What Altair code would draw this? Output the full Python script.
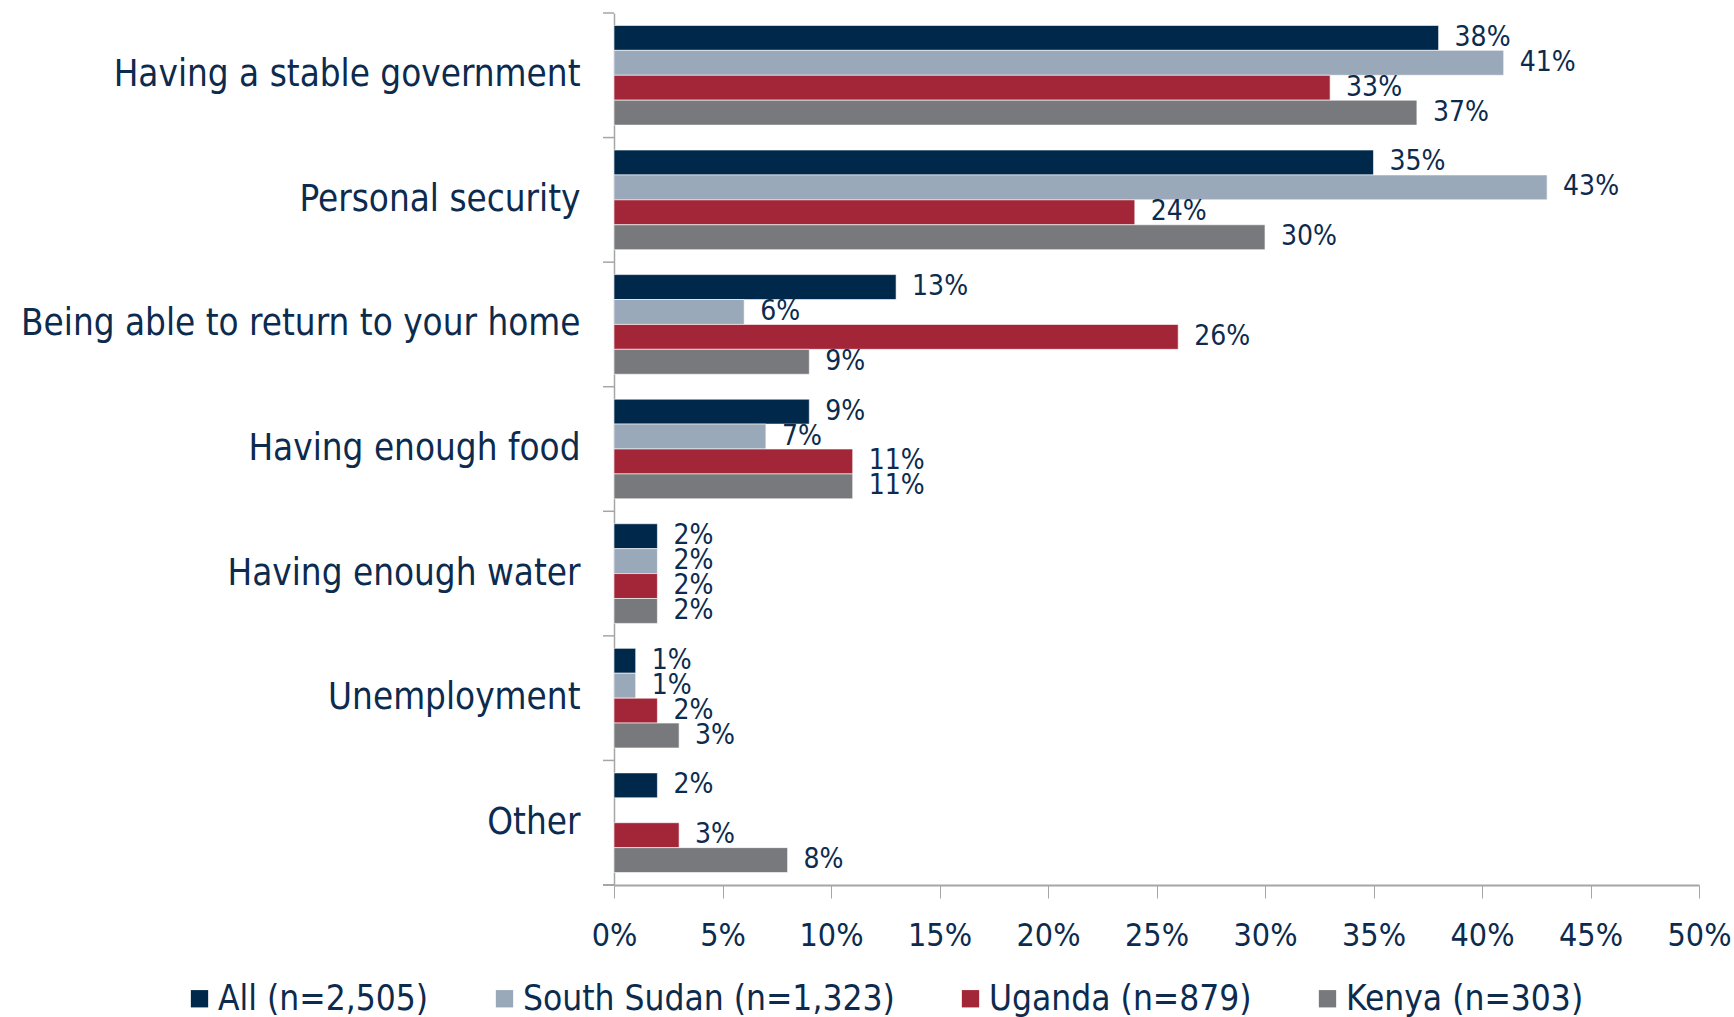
import altair as alt
import pandas as pd

categories = [
    "Having a stable government",
    "Personal security",
    "Being able to return to your home",
    "Having enough food",
    "Having enough water",
    "Unemployment",
    "Other",
]
series = ["All (n=2,505)", "South Sudan (n=1,323)", "Uganda (n=879)", "Kenya (n=303)"]
colors = ["#00284B", "#99A9B9", "#A32638", "#78797D"]

all_vals = [38, 35, 13, 9, 2, 1, 2]
south_sudan_vals = [41, 43, 6, 7, 2, 1, None]
uganda_vals = [33, 24, 26, 11, 2, 2, 3]
kenya_vals = [37, 30, 9, 11, 2, 3, 8]

x_ticks = [0, 5, 10, 15, 20, 25, 30, 35, 40, 45, 50]

rows = []
for s, vals in zip(series, [all_vals, south_sudan_vals, uganda_vals, kenya_vals]):
    for c, v in zip(categories, vals):
        if v is not None:
            rows.append({"cat": c, "series": s, "value": v, "label": f"{v}%"})
df = pd.DataFrame(rows)
cat_df = pd.DataFrame({"cat": categories})

TEXT = "#0C2B4E"
AXIS = "#A6A6A6"
FONT = "DejaVu Sans Condensed"

W, H = 1085, 872

y_enc = alt.Y(
    "cat:N",
    sort=categories,
    scale=alt.Scale(paddingInner=0, paddingOuter=0),
    axis=alt.Axis(
        title=None,
        ticks=False,
        domainColor=AXIS,
        domainWidth=1.5,
        labelFont=FONT,
        labelFontSize=36.5,
        labelColor=TEXT,
        labelPadding=34,
        labelLimit=1000,
    ),
)
yoff = alt.YOffset(
    "series:N", sort=series, scale=alt.Scale(paddingOuter=0.5, paddingInner=0)
)
x_enc = alt.X(
    "value:Q",
    scale=alt.Scale(domain=[0, 50], nice=False),
    axis=alt.Axis(
        title=None,
        values=x_ticks,
        labelExpr="datum.value + '%'",
        grid=False,
        domainColor=AXIS,
        domainWidth=2,
        tickColor=AXIS,
        tickWidth=1,
        tickSize=13,
        labelFont=FONT,
        labelFontSize=32,
        labelColor=TEXT,
        labelPadding=22,
        labelFlush=False,
        labelOverlap=False,
    ),
)

bars = alt.Chart(df).mark_bar(stroke="white", strokeWidth=0.6).encode(
    y=y_enc,
    yOffset=yoff,
    x=x_enc,
    color=alt.Color(
        "series:N",
        sort=series,
        scale=alt.Scale(domain=series, range=colors),
        legend=alt.Legend(
            title=None,
            orient="none",
            direction="horizontal",
            legendX=-432,
            legendY=968,
            symbolType="square",
            symbolSize=300,
            symbolStrokeWidth=0,
            labelFont=FONT,
            labelFontSize=35,
            labelColor=TEXT,
            labelOffset=1,
            columnPadding=58,
            labelLimit=1000,
        ),
    ),
)

labels = alt.Chart(df).mark_text(
    align="left", baseline="middle", dx=16, font=FONT, fontSize=28, color=TEXT
).encode(y=alt.Y("cat:N", sort=categories), yOffset=yoff, x="value:Q", text="label:N")

ticks_top = alt.Chart(cat_df).mark_rule(color=AXIS, strokeWidth=1.5).encode(
    y=alt.Y("cat:N", sort=categories, bandPosition=0),
    x=alt.value(-11),
    x2=alt.value(0),
)
ticks_bottom = alt.Chart(cat_df[cat_df.cat == categories[-1]]).mark_rule(
    color=AXIS, strokeWidth=2
).encode(
    y=alt.Y("cat:N", sort=categories, bandPosition=1),
    x=alt.value(-11),
    x2=alt.value(0),
)

chart = (
    alt.layer(bars, labels, ticks_top, ticks_bottom)
    .properties(
        width=W,
        height=H,
        background="white",
        autosize=alt.AutoSizeParams(type="none"),
        padding={"left": 614, "top": 13, "right": 35, "bottom": 132},
    )
    .configure_view(stroke=None)
)

chart.save("out.html", embed_options={"renderer": "svg", "actions": False})
